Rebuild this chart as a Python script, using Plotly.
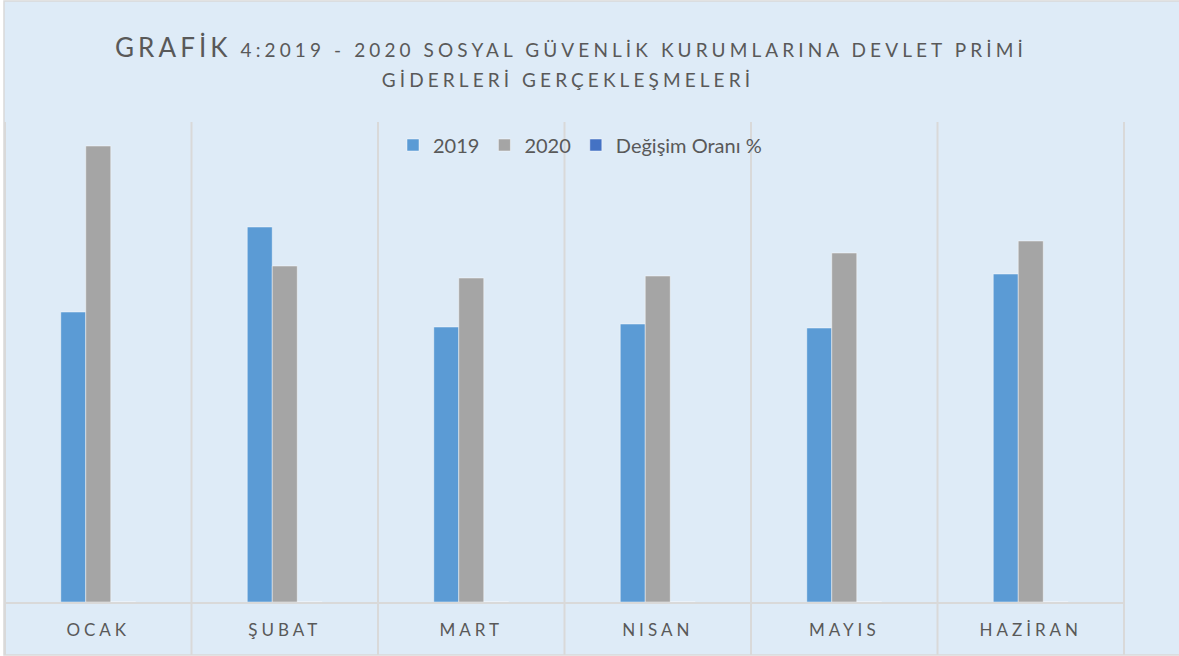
import plotly.graph_objects as go

# Data (thousand TL)
months = ["OCAK", "ŞUBAT", "MART", "NISAN", "MAYIS", "HAZİRAN"]
values_2019 = [2900000, 3750000, 2750000, 2780000, 2740000, 3280000]
values_2020 = [4560000, 3360000, 3240000, 3260000, 3490000, 3610000]
change_pct = [57.2, -10.4, 17.8, 17.3, 27.4, 10.1]

series_names = ["2019", "2020", "Değişim Oranı %"]
series_colors = ["#5B9BD5", "#A5A5A5", "#4472C4"]

title_word = "GRAFİK"
title_line1_rest = "4:2019 - 2020 SOSYAL GÜVENLİK KURUMLARINA DEVLET PRİMİ"
title_line2 = "GİDERLERİ GERÇEKLEŞMELERİ"

W, H = 1179, 656
ML, MR, MT, MB = 5, 55, 122, 54
plot_h = H - MT - MB
plot_w = W - ML - MR

def px_x(p):
    return (p - ML) / plot_w

def px_y(p):
    return (MT + plot_h - p) / plot_h

fig = go.Figure()
for name, vals, col in zip(series_names, [values_2019, values_2020, change_pct], series_colors):
    fig.add_trace(go.Bar(
        x=months, y=vals, name=name,
        marker=dict(color=col, line=dict(color="rgba(255,255,255,0.45)", width=1)),
    ))

grid_col = "#D9D9D9"
shapes = [
    dict(type="rect", xref="paper", yref="paper", x0=px_x(4), x1=1.2,
         y0=px_y(655), y1=px_y(1), fillcolor="#DEEBF7",
         line=dict(color=grid_col, width=1.5), layer="below"),
]
for i in range(len(months) + 1):
    shapes.append(dict(type="line", xref="paper", yref="paper",
                       x0=i / len(months), x1=i / len(months),
                       y0=px_y(655), y1=1,
                       line=dict(color=grid_col, width=2), layer="below"))

font_fam = "Lato, 'Open Sans', sans-serif"
annotations = [
    dict(text=f"<span style='font-size:26px'>{title_word}</span> {title_line1_rest}",
         xref="paper", yref="paper", x=px_x(571), y=px_y(47),
         xanchor="center", yanchor="middle", showarrow=False,
         font=dict(size=19, color="#595959", family=font_fam)),
    dict(text=title_line2,
         xref="paper", yref="paper", x=px_x(568), y=px_y(79),
         xanchor="center", yanchor="middle", showarrow=False,
         font=dict(size=19, color="#595959", family=font_fam)),
]

fig.update_layout(
    width=W, height=H, autosize=False,
    margin=dict(l=ML, r=MR, t=MT, b=MB, pad=0),
    paper_bgcolor="white",
    plot_bgcolor="rgba(0,0,0,0)",
    barmode="group",
    bargap=0.598,
    bargroupgap=0,
    font=dict(family=font_fam, color="#595959"),
    legend=dict(
        orientation="h", x=px_x(580), xanchor="center",
        y=px_y(145), yanchor="middle",
        font=dict(size=20, color="#595959"),
        bgcolor="rgba(0,0,0,0)", itemwidth=30, traceorder="normal",
    ),
    xaxis=dict(
        showgrid=False, zeroline=False, showline=True, linecolor=grid_col,
        linewidth=2, ticks="", tickfont=dict(size=17, color="#595959"),
        ticklabelstandoff=12, range=[-0.5, len(months) - 0.5],
    ),
    yaxis=dict(visible=False, range=[0, 4800000], showgrid=False, zeroline=False),
    shapes=shapes,
    annotations=annotations,
    showlegend=True,
)

post = """
var st = document.createElement('style');
st.innerHTML = 'body{margin:0;} .annotation-text{letter-spacing:4.1px;} .xtick text{letter-spacing:4px;}';
document.head.appendChild(st);
"""
fig.write_html("out.html", config={"displayModeBar": False}, post_script=post)
